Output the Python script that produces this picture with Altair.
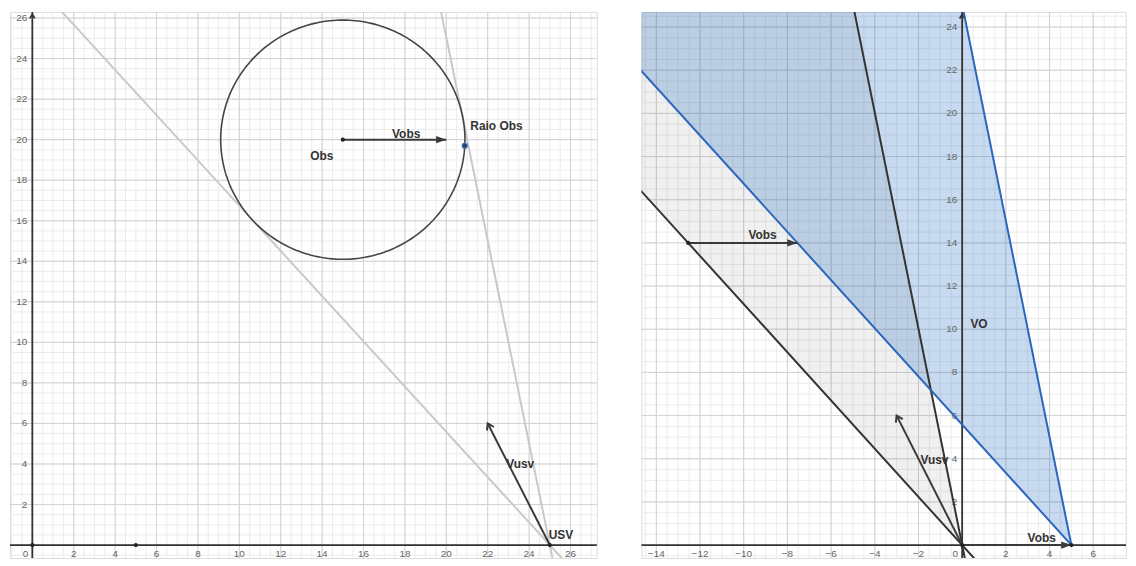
import math
import altair as alt
import numpy as np
import pandas as pd

# ---------------- data: left panel (world space) ----------------
L_XDOM = [-1.08, 27.27]
L_YDOM = [-0.64, 26.3]
obs_center = [15.0, 20.0]
obs_radius = 5.9
raio_pt = [20.89, 19.7]
left_dots_x = [0, 5, 15, 25]
left_dots_y = [0, 0, 20, 0]
tan_x1 = [25.72, 25.16]
tan_y1 = [-0.8, -0.8]
tan_x2 = [0.81, 19.61]
tan_y2 = [27.0, 27.0]
left_vec_x1 = [15, 25]
left_vec_y1 = [20, 0]
left_vec_x2 = [20, 22]
left_vec_y2 = [20, 6]
left_vec_head = ["filled", "open"]
left_lab_text = ["Obs", "Vobs", "Raio Obs", "Vusv", "USV"]
left_lab_x = [13.98, 18.06, 22.42, 23.57, 25.54]
left_lab_y = [19.18, 20.29, 20.67, 3.99, 0.48]
left_xticks = [0, 2, 4, 6, 8, 10, 12, 14, 16, 18, 20, 22, 24, 26]
left_yticks = [2, 4, 6, 8, 10, 12, 14, 16, 18, 20, 22, 24, 26]

# ---------------- data: right panel (velocity space) ----------------
R_XDOM = [-14.68, 7.5]
R_YDOM = [-0.6, 24.7]
cone_x = [-16.0, -5.39, 0.0]
cone_lo = [17.86, 6.02, 0.0]
cone_hi = [27.0, 27.0, 0.0]
vo_x = [-16.0, -0.39, 5.0]
vo_lo = [23.44, 6.02, 0.0]
vo_hi = [27.0, 27.0, 0.0]
black_x1 = [-16.0, -5.39]
black_y1 = [17.86, 27.0]
black_x2 = [0.6, 0.12]
black_y2 = [-0.67, -0.6]
blue_x1 = [5.0, 5.0]
blue_y1 = [0.0, 0.0]
blue_x2 = [-16.0, -0.39]
blue_y2 = [23.44, 27.0]
right_vec_x1 = [-12.54, 0, 0]
right_vec_y1 = [14, 0, 0]
right_vec_x2 = [-7.54, 5, -3]
right_vec_y2 = [14, 0, 6]
right_vec_head = ["filled", "filled", "open"]
right_dots_x = [0, 5, -12.54]
right_dots_y = [0, 0, 14]
right_lab_text = ["Vobs", "VO", "Vusv", "Vobs"]
right_lab_x = [-9.14, 0.77, -1.27, 3.64]
right_lab_y = [14.36, 10.23, 3.95, 0.32]
right_xticks = [-14, -12, -10, -8, -6, -4, -2, 0, 2, 4, 6]
right_yticks = [2, 4, 6, 8, 10, 12, 14, 16, 18, 20, 22, 24]

# ---------------- styles ----------------
FONT = "Liberation Sans"
AXIS_C = "#333333"
MINOR_C = "#ececec"
MAJOR_C = "#d2d2d2"
TRI = "M0,0 L-1,-0.36 L-1,0.36 Z"
CHEV = "M-0.55,0.85 L0,0 L0.55,0.85"

L_W, R_W, H = 591, 488, 550


def grid_values(dom, step):
    start = math.ceil(dom[0] / step) * step
    return list(np.arange(start, dom[1] + 1e-9, step))


def head_angle(dx, dy, xdom, ydom, w, h):
    px = dx * w / (xdom[1] - xdom[0])
    py = dy * h / (ydom[1] - ydom[0])
    return (math.degrees(math.atan2(px, py)) + 360) % 360


def base_layers(xdom, ydom, w, h, xticks, yticks):
    xs = alt.Scale(domain=xdom, nice=False, zero=False)
    ys = alt.Scale(domain=ydom, nice=False, zero=False)
    layers = []
    for step, col in [(0.5, MINOR_C), (2, MAJOR_C)]:
        vx = pd.DataFrame({"v": grid_values(xdom, step)})
        vy = pd.DataFrame({"v": grid_values(ydom, step)})
        layers.append(alt.Chart(vx).mark_rule(color=col, strokeWidth=1).encode(
            x=alt.X("v:Q", scale=xs, axis=None)))
        layers.append(alt.Chart(vy).mark_rule(color=col, strokeWidth=1).encode(
            y=alt.Y("v:Q", scale=ys, axis=None)))
    return xs, ys, layers


def axis_layers(xs, ys, xdom, ydom, xticks, yticks):
    layers = []
    zero = pd.DataFrame({"v": [0]})
    layers.append(alt.Chart(zero).mark_rule(color=AXIS_C, strokeWidth=1.8).encode(
        y=alt.Y("v:Q", scale=ys, axis=None)))
    layers.append(alt.Chart(zero).mark_rule(color=AXIS_C, strokeWidth=1.8).encode(
        x=alt.X("v:Q", scale=xs, axis=None)))
    top = pd.DataFrame({"x": [0], "y": [ydom[1] - 0.12]})
    layers.append(alt.Chart(top).mark_point(shape=CHEV, filled=False, size=90,
                                            strokeWidth=1.8, color=AXIS_C, opacity=1).encode(
        x=alt.X("x:Q", scale=xs, axis=None), y=alt.Y("y:Q", scale=ys, axis=None)))
    xt = pd.DataFrame({"x": xticks, "y": [0] * len(xticks),
                       "t": [str(v).replace("-", "\u2212") for v in xticks]})
    xt["dx"] = [-7 if v == 0 else 0 for v in xticks]
    layers.append(alt.Chart(xt[xt.x != 0]).mark_text(font=FONT, fontSize=10, color="#666666",
                                                     baseline="middle", dy=9).encode(
        x=alt.X("x:Q", scale=xs, axis=None), y=alt.Y("y:Q", scale=ys, axis=None), text="t:N"))
    layers.append(alt.Chart(xt[xt.x == 0]).mark_text(font=FONT, fontSize=10, color="#666666",
                                                     baseline="middle", dy=9, dx=-7).encode(
        x=alt.X("x:Q", scale=xs, axis=None), y=alt.Y("y:Q", scale=ys, axis=None), text="t:N"))
    yt = pd.DataFrame({"x": [0] * len(yticks), "y": yticks, "t": [str(v) for v in yticks]})
    layers.append(alt.Chart(yt).mark_text(font=FONT, fontSize=10, color="#666666",
                                          align="right", baseline="middle", dx=-5).encode(
        x=alt.X("x:Q", scale=xs, axis=None), y=alt.Y("y:Q", scale=ys, axis=None), text="t:N"))
    return layers


def seg_layer(xs, ys, x1, y1, x2, y2, color, width):
    df = pd.DataFrame({"x1": x1, "y1": y1, "x2": x2, "y2": y2})
    return alt.Chart(df).mark_rule(color=color, strokeWidth=width, clip=True).encode(
        x=alt.X("x1:Q", scale=xs, axis=None), y=alt.Y("y1:Q", scale=ys, axis=None),
        x2="x2:Q", y2="y2:Q")


def vector_layers(xs, ys, xdom, ydom, w, h, x1, y1, x2, y2, heads):
    layers = [seg_layer(xs, ys, x1, y1, x2, y2, "#3a3a3a", 2)]
    for a, b, c, d, kind in zip(x1, y1, x2, y2, heads):
        ang = head_angle(c - a, d - b, xdom, ydom, w, h)
        tip = pd.DataFrame({"x": [c], "y": [d]})
        if kind == "filled":
            mk = alt.Chart(tip).mark_point(shape=TRI, filled=True, size=420, color="#3a3a3a",
                                           opacity=1, angle=round(ang - 90, 2) % 360)
        else:
            mk = alt.Chart(tip).mark_point(shape=CHEV, filled=False, size=200, strokeWidth=2,
                                           color="#3a3a3a", opacity=1, angle=round(ang, 2))
        layers.append(mk.encode(x=alt.X("x:Q", scale=xs, axis=None),
                                y=alt.Y("y:Q", scale=ys, axis=None)))
    return layers


def label_layer(xs, ys, texts, xs_, ys_):
    df = pd.DataFrame({"x": xs_, "y": ys_, "t": texts})
    return alt.Chart(df).mark_text(font=FONT, fontSize=12, fontWeight="bold",
                                   color="#333333").encode(
        x=alt.X("x:Q", scale=xs, axis=None), y=alt.Y("y:Q", scale=ys, axis=None), text="t:N")


def dot_layer(xs, ys, px, py):
    df = pd.DataFrame({"x": px, "y": py})
    return alt.Chart(df).mark_circle(size=18, color="#222222", opacity=1).encode(
        x=alt.X("x:Q", scale=xs, axis=None), y=alt.Y("y:Q", scale=ys, axis=None))


# ---------------- left panel ----------------
xs, ys, L = base_layers(L_XDOM, L_YDOM, L_W, H, left_xticks, left_yticks)
L.append(seg_layer(xs, ys, tan_x1, tan_y1, tan_x2, tan_y2, "#c9c9c9", 2))
ang = np.linspace(0, 2 * np.pi, 241)
circ = pd.DataFrame({"x": obs_center[0] + obs_radius * np.cos(ang),
                     "y": obs_center[1] + obs_radius * np.sin(ang),
                     "o": np.arange(len(ang))})
L.append(alt.Chart(circ).mark_line(color="#444444", strokeWidth=1.6).encode(
    x=alt.X("x:Q", scale=xs, axis=None), y=alt.Y("y:Q", scale=ys, axis=None), order="o:Q"))
L += axis_layers(xs, ys, L_XDOM, L_YDOM, left_xticks, left_yticks)
L += vector_layers(xs, ys, L_XDOM, L_YDOM, L_W, H, left_vec_x1, left_vec_y1,
                   left_vec_x2, left_vec_y2, left_vec_head)
L.append(dot_layer(xs, ys, left_dots_x, left_dots_y))
L.append(alt.Chart(pd.DataFrame({"x": [raio_pt[0]], "y": [raio_pt[1]]})).mark_point(
    filled=True, size=28, fill="#2b3f66", stroke="#4a78c0", strokeWidth=1.2, opacity=1).encode(
    x=alt.X("x:Q", scale=xs, axis=None), y=alt.Y("y:Q", scale=ys, axis=None)))
L.append(label_layer(xs, ys, left_lab_text, left_lab_x, left_lab_y))
left = alt.layer(*L).properties(width=L_W, height=H)

# ---------------- right panel ----------------
xs, ys, R = base_layers(R_XDOM, R_YDOM, R_W, H, right_xticks, right_yticks)
R.append(alt.Chart(pd.DataFrame({"x": cone_x, "lo": cone_lo, "hi": cone_hi})).mark_area(
    color="#000000", opacity=0.06, clip=True).encode(
    x=alt.X("x:Q", scale=xs, axis=None), y=alt.Y("lo:Q", scale=ys, axis=None), y2="hi:Q"))
R.append(alt.Chart(pd.DataFrame({"x": vo_x, "lo": vo_lo, "hi": vo_hi})).mark_area(
    color="#1565c0", opacity=0.24, clip=True).encode(
    x=alt.X("x:Q", scale=xs, axis=None), y=alt.Y("lo:Q", scale=ys, axis=None), y2="hi:Q"))
R += axis_layers(xs, ys, R_XDOM, R_YDOM, right_xticks, right_yticks)
R.append(seg_layer(xs, ys, black_x1, black_y1, black_x2, black_y2, "#333333", 2))
R.append(seg_layer(xs, ys, blue_x1, blue_y1, blue_x2, blue_y2, "#2a66bd", 2))
R += vector_layers(xs, ys, R_XDOM, R_YDOM, R_W, H, right_vec_x1, right_vec_y1,
                   right_vec_x2, right_vec_y2, right_vec_head)
R.append(dot_layer(xs, ys, right_dots_x, right_dots_y))
R.append(label_layer(xs, ys, right_lab_text, right_lab_x, right_lab_y))
right = alt.layer(*R).properties(width=R_W, height=H)

chart = alt.hconcat(left, right, spacing=41).properties(padding=0).configure_view(
    stroke=None).configure(background="white")

chart.save("out.html", embed_options={"renderer": "svg", "actions": False})
